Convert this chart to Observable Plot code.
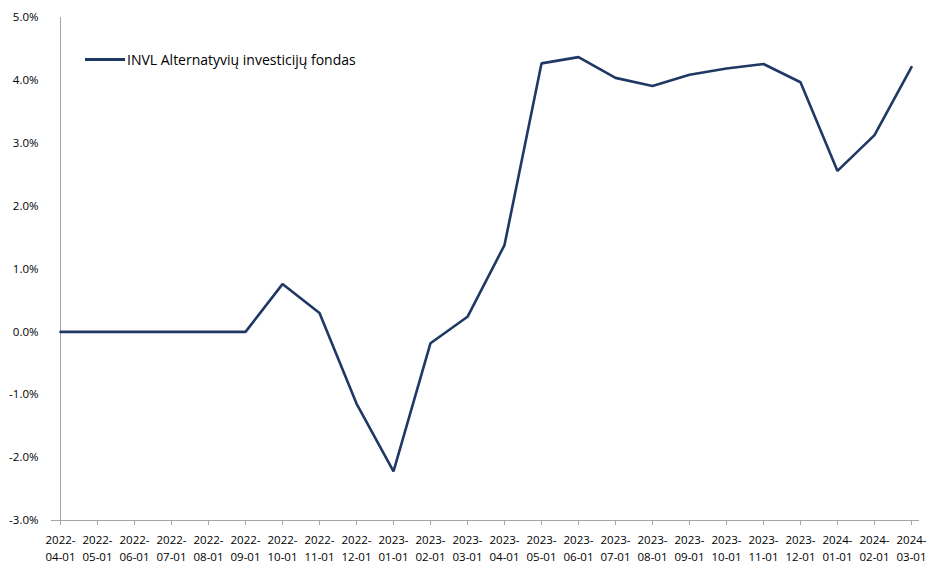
<!DOCTYPE html>
<html><head><meta charset="utf-8">
<script src="https://cdn.jsdelivr.net/npm/d3@7"></script>
<script src="https://cdn.jsdelivr.net/npm/@observablehq/plot@0.6"></script>
<style>
body{margin:0;background:#fff;overflow:hidden;}
#wrap{position:relative;width:933px;height:563px;}
#wrap svg{display:block;}
#legend{position:absolute;left:85px;top:50px;display:flex;align-items:center;font-family:"Open Sans",sans-serif;font-size:14px;color:#000;}
#legend .sw{width:40px;height:2.5px;background:#1f3864;margin-right:2px;}
</style>
</head><body><div id="wrap"><div id="legend"><div class="sw"></div><span id="lg"></span></div></div>
<script>
const dates = ["2022-04-01","2022-05-01","2022-06-01","2022-07-01","2022-08-01","2022-09-01",
  "2022-10-01","2022-11-01","2022-12-01","2023-01-01","2023-02-01","2023-03-01",
  "2023-04-01","2023-05-01","2023-06-01","2023-07-01","2023-08-01","2023-09-01",
  "2023-10-01","2023-11-01","2023-12-01","2024-01-01","2024-02-01","2024-03-01"];
const values = [0,0,0,0,0,0,
  0.76,0.30,-1.14,-2.22,-0.18,0.24,
  1.38,4.27,4.37,4.04,3.91,4.09,
  4.19,4.26,3.97,2.56,3.13,4.21];
const yTicks = [-3,-2,-1,0,1,2,3,4,5];
const seriesName = "INVL Alternatyvių investicijų fondas";
const lineColor = "#1f3864";

const data = dates.map((d,i)=>({date:d, value:values[i]}));
document.getElementById("lg").textContent = seriesName;

const chart = Plot.plot({
  width:933, height:563,
  marginLeft:51, marginRight:14, marginTop:17, marginBottom:43,
  style:{fontFamily:"'Open Sans', sans-serif", fontSize:"11.5px", color:"#000", background:"#fff"},
  x:{type:"point", domain:dates, label:null, padding:0},
  y:{domain:[-3,5], label:null},
  marks:[
    Plot.ruleY([-3], {stroke:"#a6a6a6"}),
    Plot.ruleX([dates[0]], {stroke:"#a6a6a6"}),
    Plot.axisY({ticks:yTicks, tickSize:0, tickPadding:13, tickFormat:d=>d.toFixed(1)+"%", label:null, fill:"#000"}),
    Plot.axisX({tickSize:5, stroke:"#a6a6a6", tickPadding:6, tickFormat:d=>d.slice(0,5)+"\n"+d.slice(5), label:null, fill:"#000", lineHeight:1.5}),
    Plot.line(data, {x:"date", y:"value", stroke:lineColor, strokeWidth:2.6, strokeLinejoin:"miter"})
  ]
});
document.getElementById("wrap").appendChild(chart);
</script>
</body></html>
